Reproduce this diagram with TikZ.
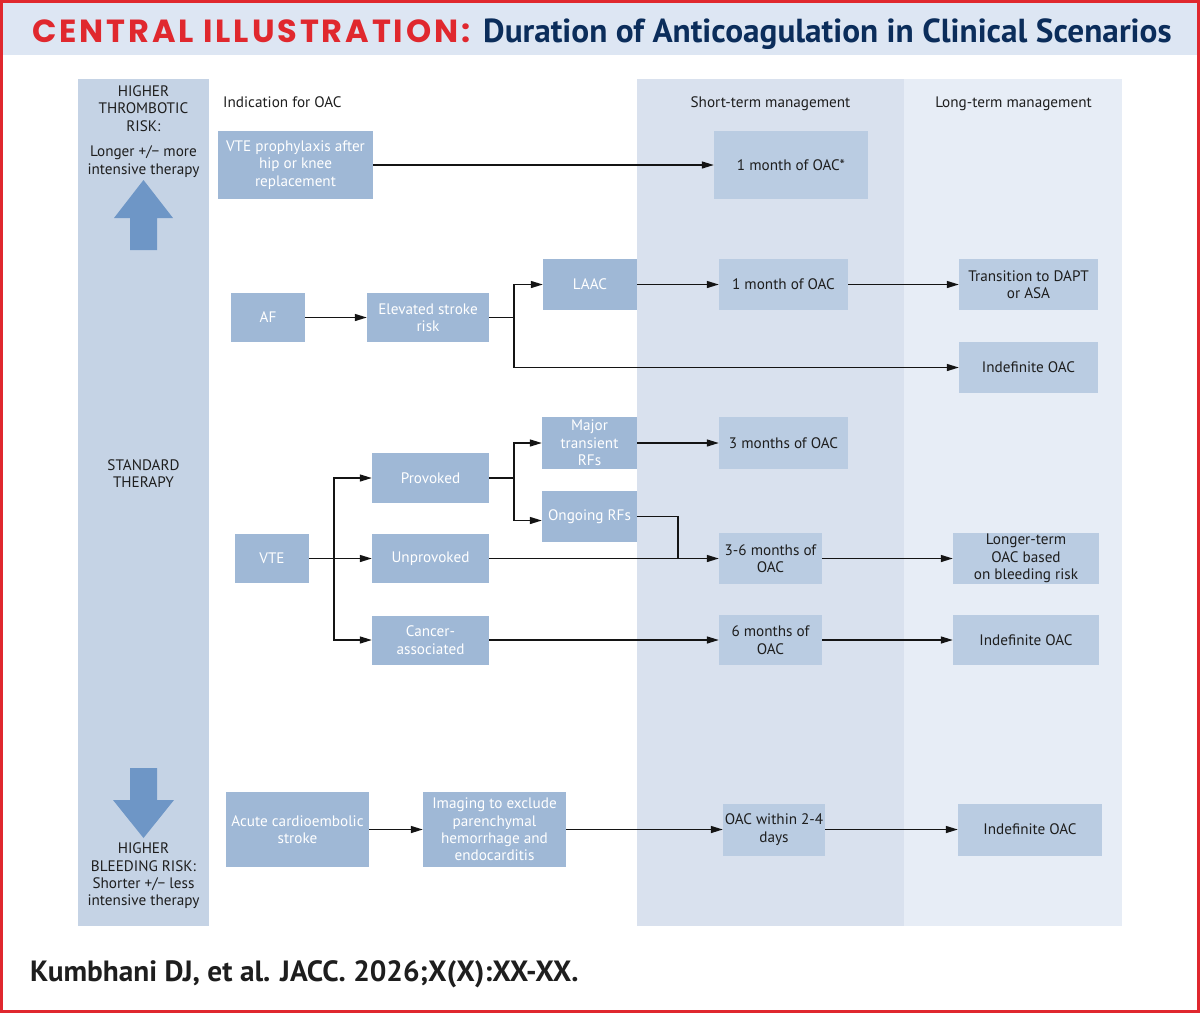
\documentclass[tikz,border=0pt]{standalone}
\usepackage{fontspec}
\setmainfont{PT Sans}
\newfontfamily\titlefont[LetterSpace=9]{Poppins}
\usetikzlibrary{arrows.meta}
\definecolor{jred}{HTML}{E0282E}
\definecolor{navy}{HTML}{0B2D5B}
\definecolor{bandblue}{HTML}{DDE6F3}
\definecolor{colleft}{HTML}{C5D3E5}
\definecolor{colshort}{HTML}{D9E1EE}
\definecolor{collong}{HTML}{E7EDF6}
\definecolor{boxmed}{HTML}{9FB8D6}
\definecolor{boxlight}{HTML}{BACCE2}
\definecolor{arrowc}{HTML}{6E96C6}
\definecolor{txtdark}{HTML}{1E1E1E}
\definecolor{linec}{HTML}{141414}
\begin{document}
\begin{tikzpicture}[x=1pt,y=-1pt,
  font=\fontsize{15.2}{17.4}\selectfont,
  mbox/.style={rectangle, fill=boxmed, text=white, align=center, inner sep=0pt},
  lbox/.style={rectangle, fill=boxlight, text=txtdark, align=center, inner sep=0pt},
  lefttxt/.style={text=txtdark, align=center, inner sep=0pt},
  hdr/.style={text=txtdark, inner sep=0pt},
  lineto/.style={draw=linec, line width=1.4pt},
  conn/.style={draw=linec, line width=1.4pt, -{Triangle[length=12pt,width=7pt]}}]
\useasboundingbox (0,0) rectangle (1200,1013);
\fill[white] (0,0) rectangle (1200,1013);
\fill[bandblue] (0,0) rectangle (1200,55);
\draw[jred, line width=3pt] (1.5,1.5) rectangle (1198.5,1011.5);
% columns
\fill[colleft] (78,79) rectangle (209,926);
\fill[colshort] (637,79) rectangle (904,926);
\fill[collong] (904,79) rectangle (1122,926);
% title
\node[anchor=base west, text=jred, font=\titlefont\bfseries\fontsize{32}{32}\selectfont, inner sep=0pt] (t1) at (32,42) {CENTRAL ILLUSTRATION:};
\node[anchor=base west, text=navy, font=\bfseries\fontsize{33.3}{33.3}\selectfont, inner sep=0pt] (t2) at (483,42) {Duration of Anticoagulation in Clinical Scenarios};
% footer
\node[anchor=base west, text=txtdark, font=\bfseries\fontsize{29.3}{29.3}\selectfont, inner sep=0pt] (ft) at (30,981) {Kumbhani DJ, et al. JACC. 2026;X(X):XX-XX.};
% left column
\fill[arrowc] (130,250) -- (130,218) -- (114,218) -- (143.5,180) -- (173,218) -- (157,218) -- (157,250) -- cycle;
\fill[arrowc] (130,768) -- (157,768) -- (157,800) -- (174,800) -- (143.5,838) -- (113,800) -- (130,800) -- cycle;
\node[lefttxt] (ht) at (143.5,108.5) {HIGHER\\THROMBOTIC\\RISK:};
\node[lefttxt] (lg) at (143.5,161.5) {Longer +/− more\\intensive therapy};
\node[lefttxt] (st) at (143.5,473.5) {STANDARD\\THERAPY};
\node[lefttxt] (hb) at (143.5,876) {HIGHER\\BLEEDING RISK:\\Shorter +/− less\\intensive therapy};
% headers
\node[hdr, anchor=west] (ind) at (223,102) {Indication for OAC};
\node[hdr] (sh) at (770.5,104) {Short-term management};
\node[hdr] (lo) at (1013.5,104) {Long-term management};
% boxes
\node[mbox, minimum width=155pt, minimum height=68pt] (vp) at (295.5,165) {VTE prophylaxis after\\hip or knee\\replacement};
\node[lbox, minimum width=154pt, minimum height=68pt] (m1s) at (791,165) {1 month of OAC*};
\node[mbox, minimum width=74pt, minimum height=49pt] (af) at (268,317.5) {AF};
\node[mbox, minimum width=122pt, minimum height=49pt] (esr) at (428,317.5) {Elevated stroke\\risk};
\node[mbox, minimum width=94pt, minimum height=51pt] (laac) at (590,284.5) {LAAC};
\node[lbox, minimum width=129pt, minimum height=51pt] (m1) at (783.5,284.5) {1 month of OAC};
\node[lbox, minimum width=139pt, minimum height=51pt] (dapt) at (1028.5,284.5) {Transition to DAPT\\or ASA};
\node[lbox, minimum width=139pt, minimum height=51pt] (ind1) at (1028.5,367.5) {Indefinite OAC};
\node[mbox, minimum width=95pt, minimum height=52pt] (major) at (589.5,443) {Major\\transient\\RFs};
\node[lbox, minimum width=129pt, minimum height=52pt] (m3) at (783.5,443) {3 months of OAC};
\node[mbox, minimum width=117pt, minimum height=50pt] (prov) at (430.5,478) {Provoked};
\node[mbox, minimum width=95pt, minimum height=51pt] (ong) at (589.5,516.5) {Ongoing RFs};
\node[mbox, minimum width=74pt, minimum height=49pt] (vte) at (272,558.5) {VTE};
\node[mbox, minimum width=117pt, minimum height=49pt] (unprov) at (430.5,558.5) {Unprovoked};
\node[lbox, minimum width=103pt, minimum height=51pt] (m36) at (770.5,558.5) {3-6 months of\\OAC};
\node[lbox, minimum width=146pt, minimum height=51pt] (lt) at (1026,558.5) {Longer-term\\OAC based\\on bleeding risk};
\node[mbox, minimum width=117pt, minimum height=49pt] (canc) at (430.5,640) {Cancer-\\associated};
\node[lbox, minimum width=103pt, minimum height=50pt] (m6) at (770.5,640) {6 months of\\OAC};
\node[lbox, minimum width=146pt, minimum height=50pt] (ind2) at (1026,640) {Indefinite OAC};
\node[mbox, minimum width=143pt, minimum height=75pt] (acs) at (297.5,829.5) {Acute cardioembolic\\stroke};
\node[mbox, minimum width=143pt, minimum height=75pt] (img) at (494.5,829.5) {Imaging to exclude\\parenchymal\\hemorrhage and\\endocarditis};
\node[lbox, minimum width=102pt, minimum height=52pt] (oacw) at (774,829.5) {OAC within 2-4\\days};
\node[lbox, minimum width=144pt, minimum height=52pt] (ind3) at (1030,829.5) {Indefinite OAC};
% connectors
\draw[conn] (vp.east) -- (m1s.west);
\draw[conn] (af.east) -- (esr.west);
\coordinate (b1) at (514,317.5);
\draw[conn] (esr.east) -- (b1) |- (laac.west);
\draw[conn] (b1) |- (ind1.west);
\draw[conn] (laac.east) -- (m1.west);
\draw[conn] (m1.east) -- (dapt.west);
\coordinate (b2) at (514,478);
\draw[conn] (prov.east) -- (b2) |- (major.west);
\draw[conn] (b2) |- ([yshift=-4pt]ong.west);
\draw[conn] (major.east) -- (m3.west);
\coordinate (b3) at (334,558.5);
\draw[conn] (vte.east) -- (b3) |- (prov.west);
\draw[conn] (b3) -- (unprov.west);
\draw[conn] (b3) |- (canc.west);
\coordinate (j1) at (678,558.5);
\draw[lineto] (ong.east) -| (j1);
\draw[conn] (unprov.east) -- (m36.west);
\draw[conn] (m36.east) -- (lt.west);
\draw[conn] (canc.east) -- (m6.west);
\draw[conn] (m6.east) -- (ind2.west);
\draw[conn] (acs.east) -- (img.west);
\draw[conn] (img.east) -- (oacw.west);
\draw[conn] (oacw.east) -- (ind3.west);
\end{tikzpicture}
\end{document}
